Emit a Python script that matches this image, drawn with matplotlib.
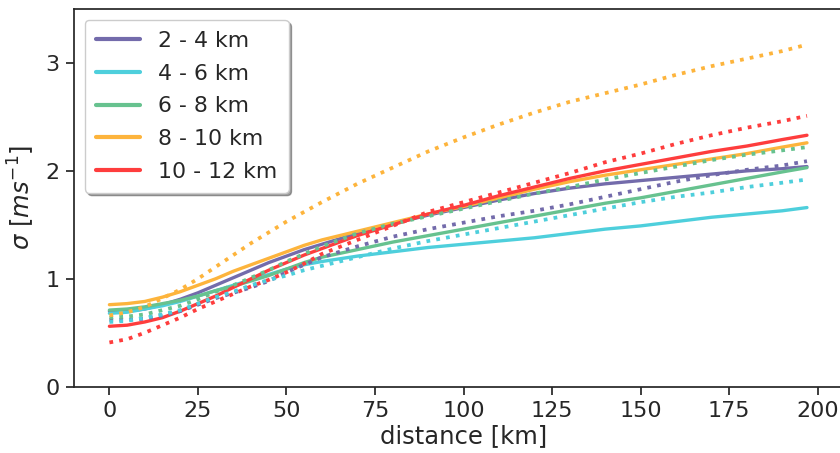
import matplotlib
matplotlib.use("Agg")
import matplotlib.pyplot as plt

# ---- data ----
labels = ["2 - 4 km", "4 - 6 km", "6 - 8 km", "8 - 10 km", "10 - 12 km"]
colors = ["#736bab", "#4ecfdc", "#67c28f", "#fdb43c", "#fe3d3d"]

distance = [0, 5, 10, 15, 20, 25, 30, 35, 40, 45, 50, 55, 60, 70, 80, 90, 100,
            110, 120, 130, 140, 150, 160, 170, 180, 190, 197]

solid_2_4 = [0.70, 0.70, 0.72, 0.76, 0.81, 0.87, 0.94, 1.01, 1.08, 1.15, 1.21,
             1.27, 1.32, 1.42, 1.51, 1.59, 1.66, 1.73, 1.79, 1.84, 1.88, 1.91,
             1.94, 1.97, 2.00, 2.02, 2.04]
solid_4_6 = [0.68, 0.69, 0.72, 0.75, 0.79, 0.84, 0.89, 0.94, 0.99, 1.04, 1.09,
             1.13, 1.16, 1.21, 1.25, 1.29, 1.32, 1.35, 1.38, 1.42, 1.46, 1.49,
             1.53, 1.57, 1.60, 1.63, 1.66]
solid_6_8 = [0.71, 0.72, 0.74, 0.77, 0.80, 0.84, 0.89, 0.93, 0.98, 1.03, 1.09,
             1.15, 1.20, 1.27, 1.34, 1.40, 1.46, 1.52, 1.58, 1.64, 1.70, 1.75,
             1.81, 1.87, 1.93, 1.99, 2.03]
solid_8_10 = [0.76, 0.77, 0.79, 0.83, 0.88, 0.94, 1.00, 1.07, 1.13, 1.19, 1.25,
              1.31, 1.36, 1.44, 1.52, 1.60, 1.67, 1.75, 1.83, 1.90, 1.96, 2.01,
              2.06, 2.11, 2.16, 2.22, 2.26]
solid_10_12 = [0.56, 0.57, 0.60, 0.64, 0.70, 0.77, 0.84, 0.92, 1.00, 1.08, 1.15,
               1.22, 1.28, 1.40, 1.50, 1.60, 1.68, 1.77, 1.85, 1.93, 2.00, 2.06,
               2.12, 2.18, 2.23, 2.29, 2.33]

dotted_2_4 = [0.62, 0.62, 0.63, 0.66, 0.70, 0.76, 0.82, 0.87, 0.92, 0.98, 1.06,
              1.13, 1.20, 1.30, 1.39, 1.46, 1.52, 1.58, 1.63, 1.69, 1.76, 1.83,
              1.90, 1.96, 2.01, 2.05, 2.09]
dotted_4_6 = [0.60, 0.61, 0.64, 0.67, 0.71, 0.77, 0.83, 0.88, 0.94, 0.99, 1.03,
              1.08, 1.12, 1.20, 1.28, 1.35, 1.41, 1.47, 1.53, 1.59, 1.65, 1.71,
              1.76, 1.80, 1.85, 1.89, 1.92]
dotted_6_8 = [0.64, 0.65, 0.67, 0.71, 0.75, 0.81, 0.88, 0.94, 1.01, 1.08, 1.16,
              1.23, 1.30, 1.42, 1.51, 1.58, 1.65, 1.72, 1.79, 1.85, 1.92, 1.98,
              2.04, 2.10, 2.15, 2.19, 2.22]
dotted_8_10 = [0.66, 0.69, 0.74, 0.82, 0.90, 1.00, 1.11, 1.22, 1.33, 1.43, 1.53,
               1.62, 1.71, 1.88, 2.03, 2.18, 2.31, 2.43, 2.54, 2.64, 2.72, 2.80,
               2.89, 2.97, 3.04, 3.11, 3.17]
dotted_10_12 = [0.41, 0.44, 0.50, 0.57, 0.64, 0.72, 0.79, 0.86, 0.93, 0.99, 1.06,
                1.14, 1.23, 1.36, 1.49, 1.62, 1.71, 1.80, 1.89, 1.98, 2.08, 2.16,
                2.25, 2.33, 2.40, 2.46, 2.51]

solid = [solid_2_4, solid_4_6, solid_6_8, solid_8_10, solid_10_12]
dotted = [dotted_2_4, dotted_4_6, dotted_6_8, dotted_8_10, dotted_10_12]

# ---- figure ----
dark = "#262626"
plt.rcParams["font.family"] = ["DejaVu Sans"]
plt.rcParams["mathtext.fontset"] = "dejavusans"

fig = plt.figure(figsize=(8.4, 4.53), dpi=100)
ax = fig.add_axes([74 / 840, 66.3 / 453, 779 / 840, 377.7 / 453])

for ys, c, lab in zip(solid, colors, labels):
    ax.plot(distance, ys, color=c, lw=2.4, label=lab, solid_capstyle="round",
            solid_joinstyle="round")
for ys, c in zip(dotted, colors):
    ax.plot(distance, ys, color=c, lw=2.7, linestyle=(0, (1, 1.65)),
            dash_capstyle="butt")

ax.set_xlim(-10, 210)
ax.set_ylim(0, 3.5)
ax.set_xticks([0, 25, 50, 75, 100, 125, 150, 175, 200])
ax.set_yticks([0, 1, 2, 3])

for s in ax.spines.values():
    s.set_color(dark)
    s.set_linewidth(1.25)

ax.tick_params(axis="both", colors=dark, labelcolor=dark, labelsize=16,
               length=5.5, width=1.25, pad=5)

ax.set_xlabel("distance [km]", fontsize=17.5, color=dark, labelpad=2)
ax.set_ylabel(r"$\sigma$ [$ms^{-1}$]", fontsize=17.5, color=dark, labelpad=6)

leg = ax.legend(loc="upper left", fontsize=15.8, frameon=True, shadow=True,
                fancybox=True, handlelength=2.0, handletextpad=0.85,
                labelspacing=0.58, borderaxespad=0.5, borderpad=0.5)
leg.get_frame().set_edgecolor("#cccccc")
for t in leg.get_texts():
    t.set_color(dark)
for h in leg.get_lines():
    h.set_linewidth(3)

fig.savefig("out.png", dpi=100)
